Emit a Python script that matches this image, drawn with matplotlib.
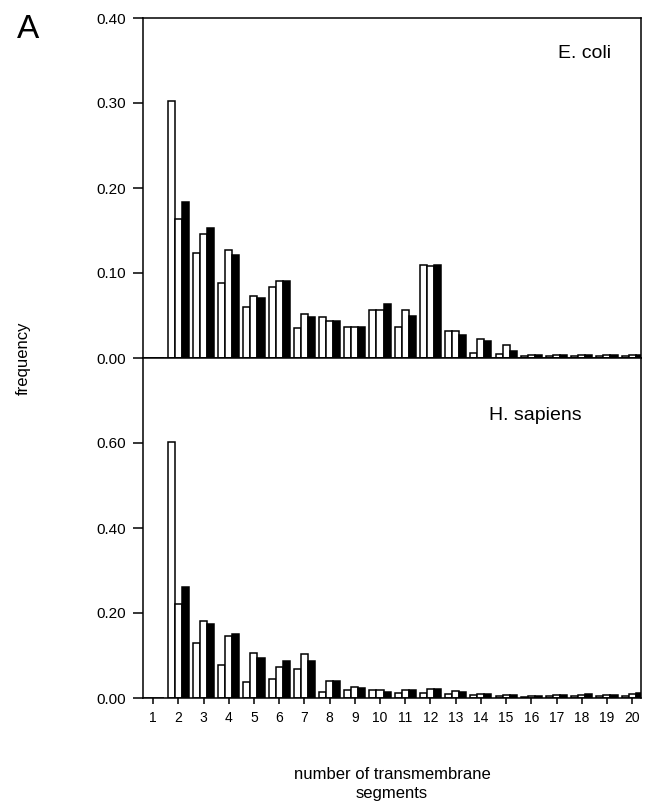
import matplotlib.pyplot as plt
import numpy as np

plt.rcParams['font.family'] = ['Liberation Sans', 'DejaVu Sans']

segments = np.arange(1, 21)

# E. coli: three series per segment count (white, white, black)
ecoli_a = [0.0, 0.302, 0.123, 0.088, 0.060, 0.083, 0.035, 0.048, 0.037, 0.057,
           0.037, 0.109, 0.032, 0.006, 0.005, 0.002, 0.002, 0.002, 0.002, 0.002]
ecoli_b = [0.0, 0.164, 0.146, 0.127, 0.073, 0.091, 0.052, 0.044, 0.037, 0.057,
           0.056, 0.108, 0.032, 0.022, 0.015, 0.003, 0.003, 0.003, 0.003, 0.003]
ecoli_c = [0.0, 0.183, 0.153, 0.121, 0.071, 0.091, 0.048, 0.043, 0.037, 0.064,
           0.049, 0.109, 0.027, 0.020, 0.008, 0.003, 0.003, 0.004, 0.003, 0.004]

# H. sapiens
human_a = [0.0, 0.603, 0.129, 0.078, 0.038, 0.044, 0.068, 0.015, 0.020, 0.020,
           0.012, 0.012, 0.010, 0.006, 0.004, 0.003, 0.005, 0.004, 0.004, 0.005]
human_b = [0.0, 0.222, 0.181, 0.145, 0.106, 0.074, 0.103, 0.039, 0.027, 0.020,
           0.020, 0.022, 0.017, 0.010, 0.008, 0.004, 0.008, 0.008, 0.006, 0.010]
human_c = [0.0, 0.261, 0.175, 0.151, 0.095, 0.088, 0.088, 0.039, 0.024, 0.015,
           0.020, 0.022, 0.014, 0.009, 0.006, 0.004, 0.008, 0.010, 0.008, 0.012]

fig = plt.figure(figsize=(6.49, 8.09), dpi=100)
left, right = 143 / 649, 641 / 649
h = 340 / 809
ax_top = fig.add_axes([left, 1 - 358 / 809, right - left, h])
ax_bot = fig.add_axes([left, 1 - 698 / 809, right - left, h])

w = 0.28
for ax, a, b, c in [(ax_top, ecoli_a, ecoli_b, ecoli_c),
                    (ax_bot, human_a, human_b, human_c)]:
    ax.bar(segments - w, a, w, color='white', edgecolor='black', linewidth=1.1)
    ax.bar(segments, b, w, color='white', edgecolor='black', linewidth=1.1)
    ax.bar(segments + w, c, w, color='black', edgecolor='black', linewidth=1.1)
    ax.set_xlim(0.6, 20.35)
    ax.set_xticks(segments)
    ax.tick_params(axis='y', direction='out', length=7, width=1.1,
                   labelsize=11, pad=5)
    ax.tick_params(axis='x', direction='out', length=4, width=1.1,
                   labelsize=10)
    for s in ax.spines.values():
        s.set_linewidth(1.1)

ax_top.set_ylim(0, 0.40)
ax_top.set_yticks([0.0, 0.1, 0.2, 0.3, 0.4])
ax_top.set_yticklabels(['0.00', '0.10', '0.20', '0.30', '0.40'])
ax_top.tick_params(axis='x', labelbottom=False)

ax_bot.set_ylim(0, 0.80)
ax_bot.set_yticks([0.0, 0.2, 0.4, 0.6])
ax_bot.set_yticklabels(['0.00', '0.20', '0.40', '0.60'])
ax_bot.set_xticklabels([str(s) for s in segments])
ax_bot.tick_params(axis='x', pad=5)

ax_top.text(0.94, 0.895, 'E. coli', transform=ax_top.transAxes,
            ha='right', va='center', fontsize=14)
ax_bot.text(0.88, 0.83, 'H. sapiens', transform=ax_bot.transAxes,
            ha='right', va='center', fontsize=14)

fig.text(17 / 649, 1 - 30 / 809, 'A', fontsize=24, ha='left', va='center')
fig.text(23 / 649, 1 - 358 / 809, 'frequency', rotation=90,
         ha='center', va='center', fontsize=12)
fig.text(392 / 649, 1 - 784 / 809, 'number of transmembrane\nsegments',
         ha='center', va='center', fontsize=12, linespacing=1.3)

fig.savefig('out.png', dpi=100)
